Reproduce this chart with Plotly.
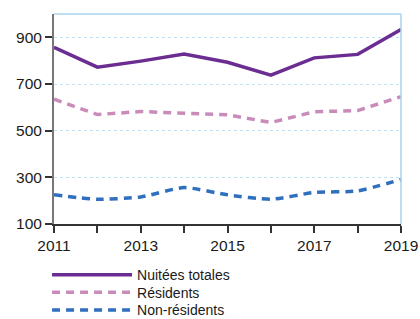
import plotly.graph_objects as go

years = [2011, 2012, 2013, 2014, 2015, 2016, 2017, 2018, 2019]
totales = [857, 772, 798, 828, 793, 738, 812, 827, 934]
residents = [635, 569, 582, 575, 568, 535, 581, 586, 646]
non_residents = [225, 206, 216, 256, 225, 206, 235, 242, 291]
names = ["Nuitées totales", "Résidents", "Non-résidents"]
y_ticks = [100, 300, 500, 700, 900]

FONT = "Liberation Sans Narrow, Arial Narrow, Liberation Sans, Arial, sans-serif"

fig = go.Figure()
fig.add_trace(go.Scatter(x=years, y=totales, name=names[0], mode="lines",
                         line=dict(color="#6b2d91", width=3.5), legend="legend"))
fig.add_trace(go.Scatter(x=years, y=residents, name=names[1], mode="lines",
                         line=dict(color="#c98bb9", width=3.5, dash="8px,6px"), legend="legend2"))
fig.add_trace(go.Scatter(x=years, y=non_residents, name=names[2], mode="lines",
                         line=dict(color="#2f6fbe", width=3.5, dash="8px,6px", shape="spline", smoothing=0.6),
                         legend="legend3"))

leg_common = dict(x=-0.02, xanchor="left", yanchor="top", orientation="v",
                  font=dict(size=14, family=FONT), itemwidth=80,
                  bgcolor="rgba(0,0,0,0)", borderwidth=0)

fig.update_layout(
    width=420, height=319,
    margin=dict(l=54, r=19, t=14, b=95, autoexpand=False),
    paper_bgcolor="white", plot_bgcolor="white",
    font=dict(family=FONT, size=15.5, color="#1a1a1a"),
    showlegend=True,
    legend=dict(y=-0.167, **leg_common),
    legend2=dict(y=-0.251, **leg_common),
    legend3=dict(y=-0.335, **leg_common),
    xaxis=dict(range=[2011, 2019], tickvals=years,
               ticktext=[str(y) if (y - 2011) % 2 == 0 else "" for y in years],
               ticks="outside", ticklen=7, tickcolor="#333", tickwidth=1.5,
               showline=True, linecolor="#333", linewidth=1.5,
               showgrid=False, zeroline=False, mirror=False, automargin=False),
    yaxis=dict(range=[100, 1000], tickvals=y_ticks,
               ticks="outside", ticklen=7, tickcolor="#333", tickwidth=1.5,
               showline=True, linecolor="#777", linewidth=2,
               showgrid=True, gridcolor="#bfe3f5", griddash="dot", gridwidth=1.2,
               zeroline=False, automargin=False),
)
# light blue frame top/right
fig.add_shape(type="line", xref="paper", yref="paper", x0=0, x1=1, y0=1, y1=1,
              line=dict(color="#a9d3ec", width=1.5))
fig.add_shape(type="line", xref="paper", yref="paper", x0=1, x1=1, y0=0, y1=1,
              line=dict(color="#a9d3ec", width=1.5))

fig.write_html("out.html", config={"displayModeBar": False},
               post_script="document.body.style.margin='0';document.body.style.overflow='hidden';")
